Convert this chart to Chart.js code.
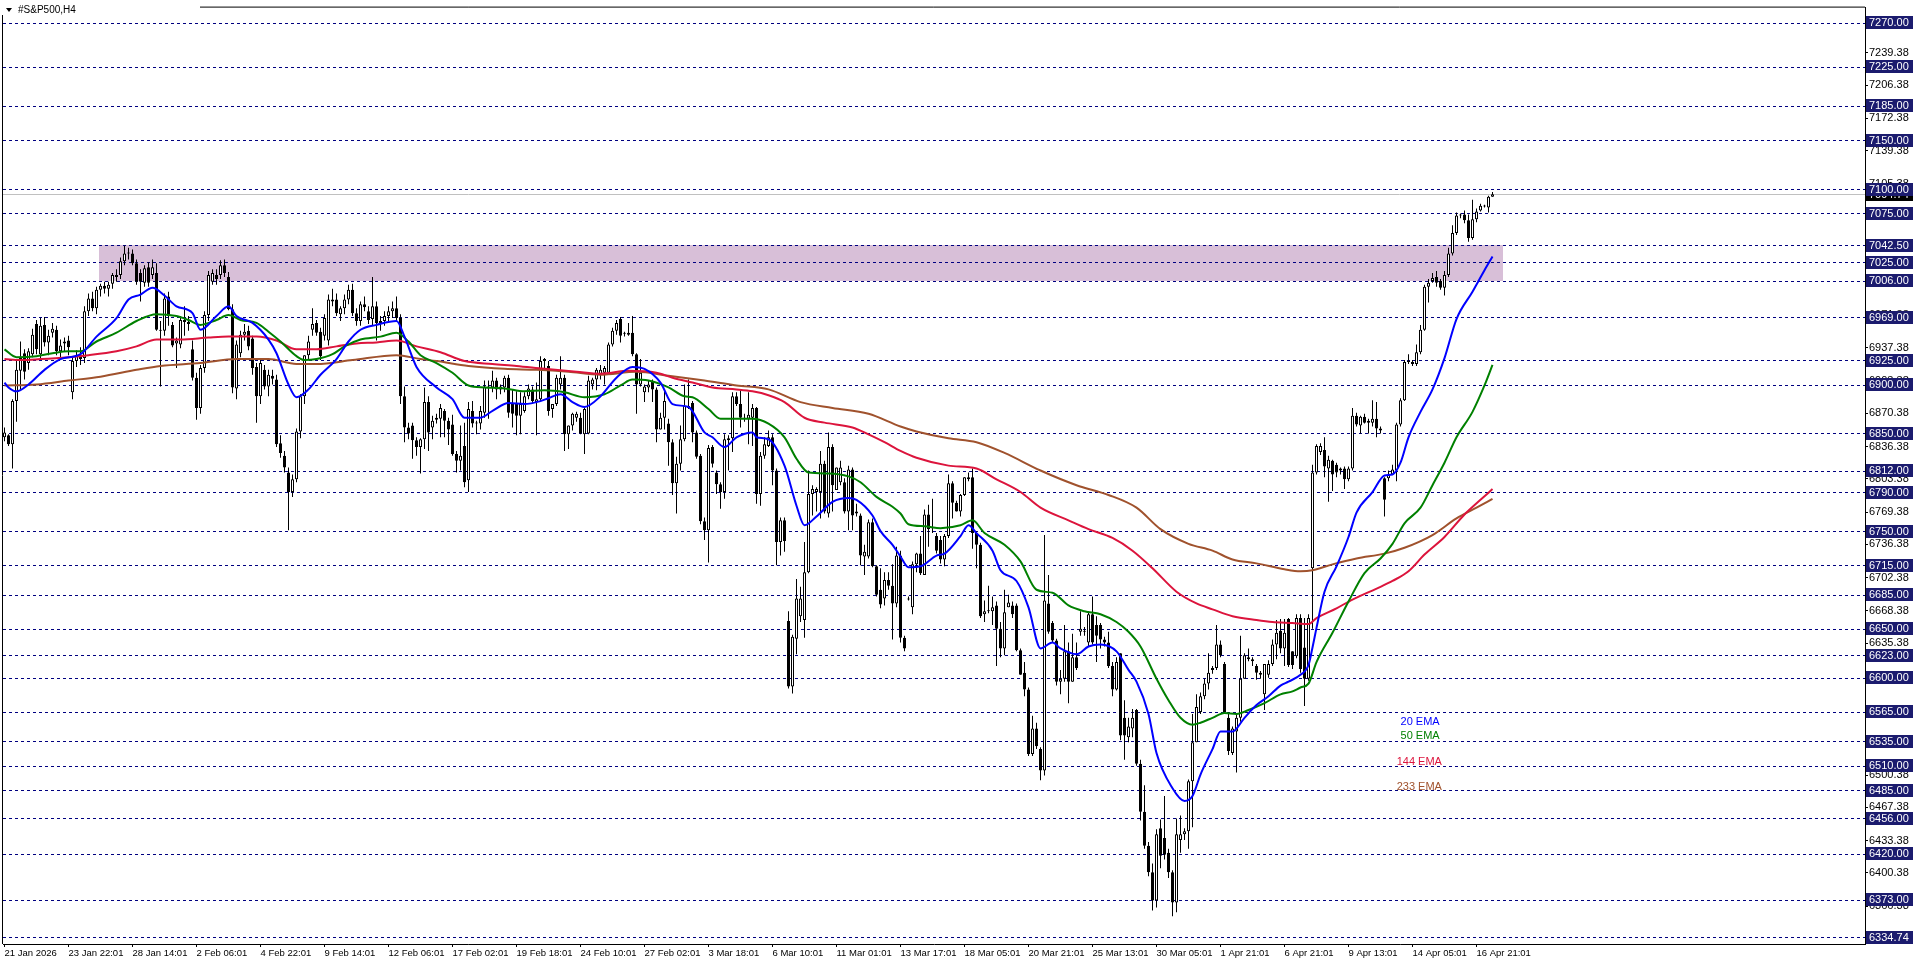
<!DOCTYPE html>
<html><head><meta charset="utf-8">
<script src="https://cdn.jsdelivr.net/npm/chart.js@4.4.1/dist/chart.umd.min.js"></script>
<style>html,body{margin:0;padding:0;background:#fff;overflow:hidden}#wrap{width:1916px;height:963px;position:relative}</style>
</head><body><div id="wrap"><canvas id="c" width="1916" height="963"></canvas></div>
<script>
// ---- Candles (#S&P500, H4), one entry per bar ----
const openP=[
6846,6848,6839,6883,6914,6932,6922,6931,6962,6931,
6961,6943,6953,6956,6934,6942,6945,6892,6924,6930,
6927,6975,6988,6978,6997,7001,6998,7003,7012,7012,
7026,7034,7034,7024,7014,7004,7020,7012,7014,6956,
6955,6990,6961,6942,6941,6966,6964,6936,6907,6876,
6917,6971,7005,7012,7012,7022,7010,6977,6896,6932,
6951,6955,6947,6918,6888,6915,6898,6909,6905,6840,
6827,6810,6790,6803,6852,6888,6930,6956,6963,6954,
6950,6945,6987,6987,6972,6978,6987,6997,6973,6965,
6982,6975,6967,6980,6963,6965,6970,6975,6978,6968,
6888,6856,6858,6843,6836,6844,6882,6856,6864,6865,
6873,6863,6859,6829,6822,6837,6802,6873,6861,6860,
6871,6898,6897,6904,6895,6897,6907,6880,6880,6868,
6873,6888,6895,6882,6885,6924,6919,6875,6880,6900,
6907,6849,6858,6866,6866,6849,6850,6900,6905,6910,
6912,6912,6941,6955,6967,6952,6951,6953,6931,6900,
6892,6897,6903,6895,6854,6866,6860,6841,6799,6819,
6844,6878,6881,6851,6827,6760,6751,6836,6810,6798,
6790,6843,6845,6888,6880,6866,6865,6866,6876,6788,
6827,6837,6846,6812,6739,6761,6658,6591,6640,6663,
6659,6708,6788,6790,6790,6819,6768,6836,6792,6800,
6800,6770,6813,6770,6766,6724,6724,6759,6714,6690,
6681,6700,6694,6676,6725,6641,6680,6672,6716,6727,
6705,6767,6753,6745,6741,6721,6745,6799,6779,6770,
6787,6805,6805,6748,6736,6665,6668,6668,6674,6650,
6630,6672,6674,6674,6628,6605,6588,6522,6548,6527,
6505,6676,6656,6638,6596,6599,6627,6596,6621,6647,
6647,6636,6665,6654,6654,6639,6636,6612,6588,6625,
6559,6539,6548,6567,6512,6463,6428,6401,6372,6446,
6436,6421,6401,6370,6434,6440,6443,6494,6534,6565,
6581,6594,6608,6610,6634,6614,6559,6523,6545,6559,
6599,6621,6619,6612,6605,6583,6603,6614,6634,6648,
6630,6660,6627,6622,6661,6631,6599,6712,6810,6831,
6833,6814,6822,6818,6812,6814,6803,6814,6868,6858,
6867,6861,6861,6865,6855,6804,6804,6808,6812,6859,
6884,6923,6923,6921,6933,6956,7000,7006,7010,7006,
6999,7012,7034,7055,7073,7074,7068,7050,7069,7078,
7082,7081,7092];
const highP=[
6856,6849,6885,6925,6944,6936,6937,6957,6966,6968,
6969,6956,6963,6960,6946,6948,6950,6929,6935,6938,
6980,6993,6995,7000,7003,7005,7005,7014,7018,7030,
7042,7040,7038,7028,7018,7022,7025,7028,7024,6965,
6993,6995,6964,6948,6970,6980,6970,6945,6912,6920,
6975,7016,7018,7018,7027,7028,7015,6982,6945,6955,
6962,6960,6950,6922,6925,6920,6915,6915,6910,6848,
6832,6815,6808,6855,6890,6930,6950,6978,6966,6958,
6972,6992,6998,6993,6980,6992,7002,7003,6978,6985,
6990,6980,7010,6985,6970,6975,6980,6985,6990,6972,
6898,6861,6861,6846,6845,6897,6888,6868,6870,6880,
6875,6866,6869,6832,6858,6861,6882,6883,6863,6878,
6904,6904,6914,6907,6900,6909,6910,6895,6893,6892,
6892,6900,6898,6902,6929,6927,6924,6880,6910,6929,
6910,6858,6871,6872,6871,6876,6909,6907,6917,6920,
6919,6943,6958,6966,6969,6954,6963,6970,6932,6926,
6900,6904,6905,6897,6871,6895,6865,6844,6826,6858,
6900,6905,6883,6853,6829,6764,6838,6838,6812,6800,
6849,6848,6892,6892,6895,6870,6892,6880,6877,6831,
6846,6853,6849,6814,6764,6764,6668,6644,6701,6693,
6739,6812,6797,6795,6832,6822,6851,6839,6815,6822,
6804,6817,6815,6778,6768,6736,6762,6763,6715,6712,
6708,6708,6716,6734,6730,6643,6683,6719,6728,6745,
6772,6777,6783,6748,6745,6747,6808,6801,6781,6788,
6805,6810,6814,6750,6738,6679,6694,6683,6678,6657,
6690,6685,6678,6676,6630,6616,6590,6561,6554,6529,
6746,6705,6658,6640,6608,6654,6636,6645,6636,6668,
6652,6668,6683,6663,6656,6642,6647,6616,6621,6625,
6577,6559,6568,6568,6516,6490,6432,6410,6445,6455,
6479,6425,6403,6456,6459,6446,6496,6563,6583,6585,
6599,6625,6612,6654,6638,6616,6565,6550,6563,6643,
6625,6630,6621,6614,6607,6614,6618,6639,6659,6660,
6660,6661,6627,6665,6665,6661,6665,6818,6839,6840,
6846,6827,6823,6820,6815,6816,6816,6876,6871,6868,
6870,6865,6884,6882,6857,6805,6812,6818,6861,6886,
6925,6931,6925,6941,6961,7002,7008,7014,7016,7008,
7016,7040,7063,7076,7075,7078,7074,7089,7080,7085,
7084,7093,7097];
const lowP=[
6842,6837,6814,6862,6895,6905,6915,6928,6931,6925,
6939,6930,6948,6930,6927,6934,6930,6885,6918,6920,
6922,6970,6975,6972,6990,6993,6990,6998,7005,7008,
7022,7028,7022,7002,6985,7000,7000,7008,6955,6898,
6950,6960,6938,6917,6937,6950,6955,6904,6864,6870,
6912,6965,7002,7002,7008,7010,6976,6891,6885,6928,
6945,6935,6910,6861,6880,6895,6888,6900,6836,6825,
6810,6751,6785,6800,6845,6880,6925,6950,6950,6925,
6945,6940,6980,6970,6965,6972,6982,6970,6960,6960,
6975,6962,6960,6945,6955,6960,6965,6968,6965,6880,
6841,6844,6824,6827,6809,6834,6832,6844,6860,6846,
6846,6838,6827,6810,6812,6795,6790,6856,6849,6854,
6866,6865,6892,6885,6890,6892,6866,6856,6848,6849,
6871,6885,6880,6848,6883,6917,6868,6866,6878,6895,
6832,6834,6853,6862,6849,6829,6849,6895,6894,6905,
6900,6910,6939,6951,6943,6949,6950,6929,6870,6898,
6882,6892,6882,6841,6854,6854,6817,6787,6768,6812,
6842,6875,6841,6824,6757,6741,6718,6815,6788,6773,
6783,6812,6831,6878,6856,6862,6839,6837,6778,6776,
6824,6836,6797,6715,6725,6729,6589,6584,6624,6657,
6641,6707,6766,6770,6763,6768,6764,6770,6792,6797,
6768,6751,6751,6765,6715,6705,6722,6713,6683,6671,
6674,6690,6639,6672,6636,6627,6679,6665,6708,6705,
6705,6734,6748,6727,6717,6714,6743,6763,6770,6765,
6786,6801,6732,6712,6661,6657,6666,6654,6612,6621,
6623,6672,6661,6627,6603,6581,6520,6520,6527,6495,
6500,6645,6636,6592,6583,6596,6574,6596,6608,6643,
6643,6632,6634,6616,6630,6632,6610,6581,6587,6536,
6516,6534,6539,6510,6454,6425,6397,6362,6365,6405,
6414,6395,6356,6360,6421,6434,6425,6447,6534,6563,
6578,6588,6604,6608,6621,6563,6521,6521,6503,6555,
6599,6617,6612,6598,6599,6567,6600,6612,6619,6625,
6612,6611,6609,6620,6605,6571,6597,6650,6808,6828,
6805,6780,6791,6805,6808,6793,6801,6812,6857,6850,
6860,6850,6857,6846,6850,6765,6801,6808,6801,6857,
6883,6921,6919,6919,6931,6955,6984,7004,7000,6997,
6991,7010,7032,7053,7070,7065,7046,7048,7066,7077,
7081,7076,7092];
const closeP=[
6851,6839,6883,6915,6927,6913,6934,6951,6936,6960,
6943,6950,6957,6934,6940,6944,6938,6924,6930,6926,
6975,6988,6978,6997,7001,6998,7002,7012,7010,7026,
7034,7035,7024,7005,7005,7019,7004,7020,6956,6955,
6988,6970,6940,6945,6966,6964,6962,6907,6876,6917,
6971,7012,7014,7008,7022,7014,6977,6897,6941,6951,
6954,6939,6917,6888,6922,6898,6910,6906,6839,6830,
6815,6790,6803,6852,6888,6930,6944,6962,6953,6929,
6968,6987,6985,6973,6978,6987,6997,6973,6965,6982,
6979,6966,6980,6963,6965,6970,6975,6978,6968,6888,
6856,6850,6843,6836,6844,6882,6851,6863,6866,6876,
6863,6854,6829,6822,6827,6800,6875,6860,6860,6873,
6898,6897,6904,6895,6898,6907,6871,6870,6868,6880,
6888,6896,6883,6885,6924,6926,6873,6880,6907,6907,
6849,6858,6870,6870,6850,6875,6904,6905,6915,6915,
6917,6941,6955,6963,6950,6953,6953,6931,6900,6912,
6898,6900,6895,6854,6866,6883,6841,6799,6819,6844,
6878,6876,6851,6826,6760,6751,6835,6819,6798,6790,
6844,6845,6888,6880,6866,6865,6869,6876,6788,6827,
6839,6846,6812,6739,6761,6740,6591,6642,6681,6681,
6708,6788,6793,6793,6819,6770,6836,6797,6815,6815,
6770,6813,6766,6768,6725,6729,6759,6714,6685,6675,
6700,6694,6676,6725,6641,6630,6681,6716,6727,6707,
6767,6752,6754,6730,6721,6745,6799,6779,6770,6787,
6805,6803,6748,6736,6663,6668,6668,6672,6650,6630,
6667,6677,6665,6628,6603,6588,6522,6548,6530,6505,
6679,6647,6638,6596,6599,6627,6596,6621,6610,6650,
6648,6665,6636,6643,6639,6636,6612,6588,6616,6541,
6541,6550,6559,6512,6463,6428,6401,6372,6440,6418,
6419,6401,6370,6440,6440,6443,6494,6534,6570,6581,
6594,6605,6610,6634,6623,6565,6525,6548,6559,6599,
6623,6619,6617,6605,6603,6614,6614,6634,6646,6630,
6646,6613,6613,6661,6609,6599,6661,6810,6837,6837,
6816,6823,6808,6810,6814,6803,6814,6868,6859,6867,
6861,6863,6865,6855,6853,6782,6808,6813,6859,6884,
6923,6923,6921,6933,6956,7000,7004,7009,7004,6999,
7012,7034,7055,7073,7074,7068,7050,7069,7077,7083,
7083,7092,7094.74];

// ---- Moving averages: [bar, value] ----
const ema20=[[0,6902],[1,6897],[3,6893],[6,6900],[10,6915],[14,6926],[19,6931],[23,6949],[28,6968],[31,6987],[34,6992],[37,6999],[40,6991],[43,6980],[47,6973],[49,6956],[53,6970],[56,6980],[58,6970],[62,6963],[66,6946],[68,6932],[71,6900],[73,6887],[76,6895],[79,6910],[83,6926],[86,6944],[89,6956],[93,6961],[98,6965],[100,6949],[103,6918],[108,6897],[112,6885],[115,6866],[119,6866],[122,6873],[126,6881],[130,6880],[134,6883],[136,6886],[139,6890],[142,6882],[145,6877],[149,6888],[153,6907],[157,6918],[160,6916],[164,6902],[167,6880],[171,6877],[175,6851],[177,6846],[180,6836],[183,6846],[187,6851],[188,6846],[191,6844],[195,6817],[198,6776],[200,6756],[203,6765],[207,6780],[211,6784],[213,6782],[217,6766],[219,6750],[222,6736],[224,6724],[226,6713],[229,6714],[233,6725],[235,6727],[239,6745],[241,6756],[243,6748],[247,6730],[249,6710],[253,6699],[256,6672],[259,6630],[262,6636],[264,6630],[268,6624],[271,6632],[274,6634],[278,6627],[281,6608],[283,6596],[286,6563],[288,6523],[292,6487],[295,6474],[297,6479],[299,6501],[302,6527],[304,6545],[307,6545],[310,6559],[313,6572],[316,6581],[319,6592],[321,6596],[324,6603],[326,6613],[327,6631],[328,6651],[330,6688],[333,6714],[336,6744],[338,6769],[342,6790],[345,6807],[347,6808],[349,6820],[351,6846],[354,6872],[357,6895],[360,6927],[363,6967],[367,6995],[370,7017],[372,7031]];
const ema50=[[0,6936],[3,6928],[8,6929],[12,6932],[16,6934],[19,6934],[23,6944],[28,6953],[33,6965],[38,6972],[43,6970],[46,6966],[49,6961],[53,6966],[56,6971],[59,6966],[63,6963],[66,6954],[69,6944],[73,6929],[75,6925],[78,6926],[82,6931],[85,6939],[89,6946],[94,6949],[98,6953],[101,6944],[104,6930],[108,6922],[112,6912],[116,6899],[120,6897],[125,6896],[130,6893],[135,6894],[140,6892],[145,6887],[150,6890],[154,6899],[157,6905],[161,6904],[166,6897],[170,6888],[172,6887],[176,6875],[179,6865],[183,6865],[187,6865],[191,6860],[195,6846],[198,6824],[201,6810],[206,6809],[211,6806],[214,6800],[218,6785],[222,6775],[224,6768],[226,6757],[230,6755],[234,6753],[239,6756],[242,6761],[245,6748],[250,6736],[254,6719],[258,6690],[262,6687],[266,6674],[270,6668],[274,6665],[278,6657],[281,6647],[284,6632],[288,6599],[291,6577],[294,6559],[297,6552],[299,6554],[302,6559],[305,6564],[308,6563],[311,6567],[315,6574],[319,6583],[322,6586],[324,6590],[326,6594],[328,6616],[332,6646],[336,6678],[340,6707],[344,6722],[347,6737],[350,6758],[354,6774],[357,6797],[360,6820],[363,6846],[367,6872],[370,6899],[372,6920]];
const ema144=[[0,6926],[4,6925],[9,6926],[16,6928],[21,6930],[28,6934],[33,6939],[38,6946],[44,6946],[51,6948],[56,6949],[63,6949],[68,6945],[73,6936],[78,6936],[83,6939],[88,6942],[93,6943],[98,6945],[103,6939],[109,6933],[115,6924],[122,6921],[128,6919],[135,6916],[143,6913],[149,6911],[156,6914],[163,6912],[167,6907],[172,6902],[177,6897],[183,6895],[187,6893],[191,6889],[195,6882],[200,6866],[205,6861],[212,6856],[216,6849],[220,6841],[224,6832],[228,6825],[236,6817],[243,6814],[248,6803],[254,6790],[259,6774],[266,6761],[271,6752],[277,6743],[282,6730],[287,6712],[293,6688],[298,6676],[302,6670],[307,6663],[313,6659],[317,6657],[322,6656],[326,6655],[328,6661],[333,6671],[337,6680],[344,6693],[347,6699],[351,6709],[355,6726],[360,6744],[365,6767],[369,6782],[372,6793]];
const ema233=[[0,6899],[8,6900],[16,6904],[24,6908],[33,6915],[39,6919],[49,6922],[58,6926],[66,6926],[73,6921],[78,6921],[87,6925],[98,6930],[104,6926],[108,6924],[116,6919],[125,6916],[133,6915],[141,6913],[149,6910],[158,6913],[166,6909],[175,6904],[183,6899],[191,6895],[199,6882],[207,6876],[216,6870],[224,6857],[228,6852],[236,6845],[243,6841],[250,6830],[259,6812],[268,6797],[276,6787],[283,6774],[289,6752],[296,6737],[302,6730],[307,6721],[313,6717],[320,6711],[324,6709],[327,6710],[332,6716],[338,6722],[345,6727],[350,6733],[357,6746],[363,6763],[368,6774],[372,6783]];

// ---- Axis text ----
const xTickBars=[0,16,32,48,64,80,96,112,128,144,160,176,192,208,224,240,256,272,288,304,320,336,352,368];
const xTickLabels=["21 Jan 2026","23 Jan 22:01","28 Jan 14:01","2 Feb 06:01","4 Feb 22:01","9 Feb 14:01","12 Feb 06:01","17 Feb 02:01","19 Feb 18:01","24 Feb 10:01","27 Feb 02:01","3 Mar 18:01","6 Mar 10:01","11 Mar 01:01","13 Mar 17:01","18 Mar 05:01","20 Mar 21:01","25 Mar 13:01","30 Mar 05:01","1 Apr 21:01","6 Apr 21:01","9 Apr 13:01","14 Apr 05:01","16 Apr 21:01"];
const yTickVals=[7239.38,7206.38,7172.38,7139.38,7105.38,7071.38,7038.38,7004.38,6971.38,6937.38,6903.38,6870.38,6836.38,6803.38,6769.38,6736.38,6702.38,6668.38,6635.38,6601.38,6567.38,6534.38,6500.38,6467.38,6433.38,6400.38,6366.38];
// ---- Horizontal level objects, zone, last price ----
const levels=[7270,7225,7185,7150,7100,7075,7042.5,7025,7006,6969,6925,6900,6850,6812,6790,6750,6715,6685,6650,6623,6600,6565,6535,6510,6485,6456,6420,6373,6334.74];
const zonePrices=[7006,7042.5];
const zoneBars=[23.6,374.6];
const lastPrice=[7094.74];
const emaNames=["20 EMA","50 EMA","144 EMA","233 EMA"];
const emaLabelBars=[353.9,353.9,353.7,353.7];
const emaLabelPrices=[6554.4,6540.7,6514.2,6488.2];

const FONT='"Liberation Sans", Arial, sans-serif';
const COL={e20:'#0000FF',e50:'#008000',e144:'#DC143C',e233:'#A0522D',lvl:'#000080',box:'#1B1B6E',zone:'#D8BFD8'};

const bars=closeP.map((_,i)=>i);
const wicks=bars.map(i=>({x:i,y:[lowP[i],highP[i]]}));
const bodies=bars.map(i=>({x:i,y:[openP[i],closeP[i]]}));
const bodyFill=bars.map(i=>closeP[i]>=openP[i]?'#ffffff':'#000000');
const pts=a=>a.map(p=>({x:p[0],y:p[1]}));

const overlay={
  id:'overlay',
  beforeDatasetsDraw(chart){
    const {ctx,chartArea:a,scales:{x,y}}=chart;
    ctx.save();
    ctx.beginPath();ctx.rect(a.left,a.top,a.right-a.left,a.bottom-a.top);ctx.clip();
    const zx0=x.getPixelForValue(zoneBars[0]),zx1=x.getPixelForValue(zoneBars[1]);
    const zy0=y.getPixelForValue(zonePrices[1]),zy1=y.getPixelForValue(zonePrices[0]);
    ctx.fillStyle=COL.zone;ctx.fillRect(Math.round(zx0),Math.round(zy0),Math.round(zx1-zx0),Math.round(zy1-zy0));
    ctx.lineWidth=1;
    const py=Math.round(y.getPixelForValue(lastPrice[0]))+0.5;
    ctx.strokeStyle='#C0C0C0';ctx.beginPath();ctx.moveTo(a.left,py);ctx.lineTo(a.right,py);ctx.stroke();
    ctx.strokeStyle=COL.lvl;ctx.setLineDash([3,3]);
    levels.forEach(v=>{const yy=Math.round(y.getPixelForValue(v))+0.5;ctx.beginPath();ctx.moveTo(a.left,yy);ctx.lineTo(a.right,yy);ctx.stroke();});
    ctx.restore();
  },
  afterDraw(chart){
    const {ctx,chartArea:a,scales:{x,y}}=chart;
    ctx.save();
    ctx.strokeStyle='#000';ctx.lineWidth=1;
    ctx.beginPath();ctx.moveTo(a.left-0.5,a.bottom);ctx.lineTo(a.left-0.5,a.top-0.5);ctx.lineTo(a.right,a.top-0.5);ctx.stroke();
    ctx.font='11px '+FONT;ctx.textBaseline='middle';ctx.textAlign='left';
    const bx=a.right+1,bw=47,bh=13;
    const box=(v,bg)=>{const cy=y.getPixelForValue(v);const t=Math.round(cy-bh/2);
      ctx.fillStyle=bg;ctx.fillRect(bx,t,bw,bh);ctx.fillStyle='#fff';ctx.fillText(v.toFixed(2),bx+3,t+bh/2+0.5);};
    box(lastPrice[0],'#000');
    levels.forEach(v=>box(v,COL.box));
    ctx.fillStyle='#fff';ctx.fillRect(0,0,200,15);
    ctx.fillStyle='#000';ctx.beginPath();ctx.moveTo(6,8);ctx.lineTo(12,8);ctx.lineTo(9,12);ctx.closePath();ctx.fill();
    ctx.font='10px '+FONT;ctx.fillText('#S&P500,H4',18,10.5);
    const cols=[COL.e20,COL.e50,COL.e144,COL.e233];
    ctx.font='11px '+FONT;ctx.textAlign='center';
    emaNames.forEach((n,k)=>{ctx.fillStyle=cols[k];ctx.fillText(n,x.getPixelForValue(emaLabelBars[k]),y.getPixelForValue(emaLabelPrices[k]));});
    ctx.restore();
  }
};

new Chart(document.getElementById('c'),{
  type:'bar',
  data:{datasets:[
    {type:'line',label:'20 EMA',data:pts(ema20),borderColor:COL.e20,borderWidth:2,pointRadius:0,cubicInterpolationMode:'monotone',order:0},
    {type:'line',label:'50 EMA',data:pts(ema50),borderColor:COL.e50,borderWidth:2,pointRadius:0,cubicInterpolationMode:'monotone',order:1},
    {type:'line',label:'144 EMA',data:pts(ema144),borderColor:COL.e144,borderWidth:2,pointRadius:0,cubicInterpolationMode:'monotone',order:2},
    {type:'line',label:'233 EMA',data:pts(ema233),borderColor:COL.e233,borderWidth:2,pointRadius:0,cubicInterpolationMode:'monotone',order:3},
    {type:'bar',label:'body',data:bodies,backgroundColor:bodyFill,borderColor:'#000',borderWidth:1,borderSkipped:false,barThickness:3,maxBarThickness:3,grouped:false,minBarLength:1,inflateAmount:0,order:5},
    {type:'bar',label:'wick',data:wicks,backgroundColor:'#000',borderWidth:0,barThickness:1,maxBarThickness:1,grouped:false,inflateAmount:0,order:6}
  ]},
  options:{
    responsive:false,animation:false,events:[],devicePixelRatio:1,
    layout:{padding:{left:3,top:3,right:0,bottom:0}},
    plugins:{legend:{display:false},tooltip:{enabled:false}},
    scales:{
      x:{type:'linear',min:-0.375,max:465.125,offset:false,
        afterBuildTicks:s=>{s.ticks=xTickBars.map(v=>({value:v}));},
        afterFit:s=>{s.height=19;},
        ticks:{autoSkip:false,maxRotation:0,minRotation:0,align:'start',padding:1,color:'#000',font:{size:9.5,family:FONT},callback:(v,i)=>xTickLabels[i]},
        grid:{drawOnChartArea:false,drawTicks:true,tickLength:3,color:'#000',offset:false},
        border:{display:true,color:'#000',width:1}},
      y:{type:'linear',position:'right',min:6327.6,max:7285.6,
        afterBuildTicks:s=>{s.ticks=yTickVals.map(v=>({value:v}));},
        afterFit:s=>{s.width=51;},
        ticks:{autoSkip:false,padding:1,color:'#000',font:{size:11,family:FONT},callback:v=>Number(v).toFixed(2)},
        grid:{drawOnChartArea:false,drawTicks:true,tickLength:3,color:'#000'},
        border:{display:true,color:'#000',width:1}}
    }
  },
  plugins:[overlay]
});
</script></body></html>
